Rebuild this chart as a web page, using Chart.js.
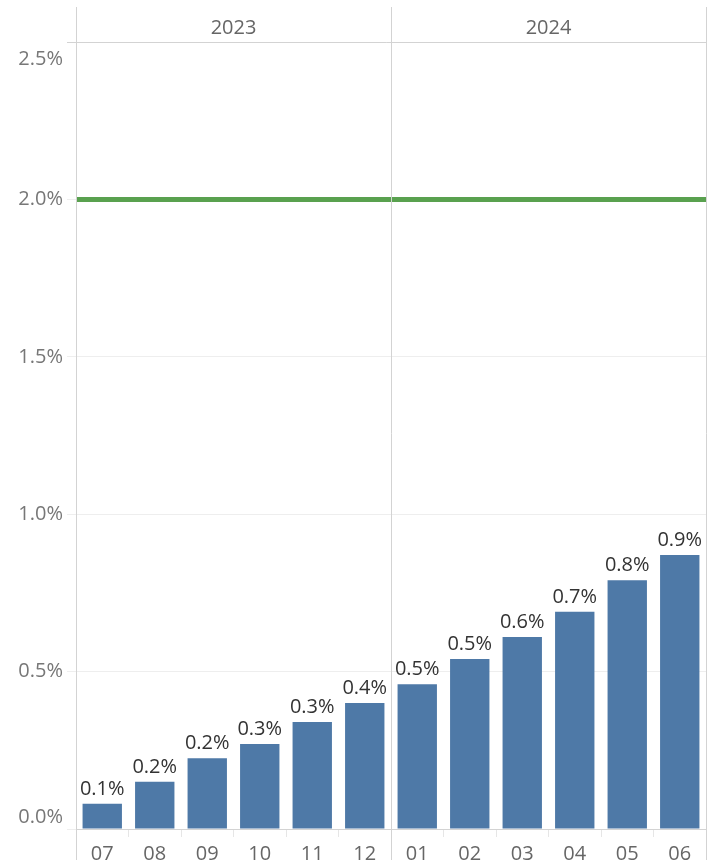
<!DOCTYPE html>
<html>
<head>
<meta charset="utf-8">
<script src="https://cdn.jsdelivr.net/npm/chart.js@4.4.1/dist/chart.umd.min.js"></script>
<style>
  body { margin: 0; background: #fff; }
  canvas { display: block; }
</style>
</head>
<body>
<canvas id="myChart" width="721" height="860"></canvas>
<script>
// datos
const meses = ['07', '08', '09', '10', '11', '12', '01', '02', '03', '04', '05', '06']
const anios = ['2023', '2023', '2023', '2023', '2023', '2023', '2024', '2024', '2024', '2024', '2024', '2024']
const valores = [0.08, 0.15, 0.225, 0.27, 0.34, 0.40, 0.46, 0.54, 0.61, 0.69, 0.79, 0.87]
const etiquetasY = [0, 0.5, 1.0, 1.5, 2.0, 2.5]
const meta = [2.0]

const fuente = "'Open Sans', sans-serif"
const ctx = document.getElementById('myChart')

// redondeo a un decimal (0.15 -> 0.2)
const fmt = v => (Math.round(v * 10 + 1e-6) / 10).toFixed(1) + '%'

const panelPlugin = {
    id: 'paneles',
    afterDatasetsDraw(chart) {
        const c = chart.ctx
        const area = chart.chartArea
        const x = chart.scales.x
        const y = chart.scales.y

        // linea de meta
        c.save()
        c.strokeStyle = '#59a14f'
        c.lineWidth = 5
        meta.forEach(v => {
            const py = y.getPixelForValue(v)
            c.beginPath()
            c.moveTo(area.left, py)
            c.lineTo(area.right, py)
            c.stroke()
        })

        // etiquetas de las barras
        c.fillStyle = '#333'
        c.font = '20px ' + fuente
        c.textAlign = 'center'
        c.textBaseline = 'alphabetic'
        chart.getDatasetMeta(0).data.forEach((bar, i) => {
            c.fillText(fmt(valores[i]), bar.x, bar.y - 9)
        })

        // etiquetas del eje Y
        c.fillStyle = '#777'
        c.textAlign = 'right'
        c.textBaseline = 'middle'
        etiquetasY.forEach(v => {
            let py = y.getPixelForValue(v)
            if (py > area.bottom - 12) py = area.bottom - 12
            if (py < area.top + 17) py = area.top + 17
            c.fillText(v.toFixed(1) + '%', 63, py)
        })

        // cabecera y divisiones por año
        c.strokeStyle = '#d3d3d3'
        c.lineWidth = 1
        c.beginPath()
        c.moveTo(area.left - 9, area.top + 0.5)
        c.lineTo(area.right, area.top + 0.5)
        c.stroke()

        const grupos = []
        anios.forEach((a, i) => {
            const last = grupos[grupos.length - 1]
            if (last && last.anio === a) last.fin = i
            else grupos.push({ anio: a, ini: i, fin: i })
        })
        const half = (x.getPixelForValue(1) - x.getPixelForValue(0)) / 2
        const bordes = [area.left]
        grupos.forEach(g => {
            const x0 = x.getPixelForValue(g.ini) - half
            const x1 = x.getPixelForValue(g.fin) + half
            bordes.push(x1)
            c.fillStyle = '#666'
            c.textAlign = 'center'
            c.textBaseline = 'middle'
            c.font = '20px ' + fuente
            c.fillText(g.anio, (x0 + x1) / 2, area.top - 14)
        })
        bordes.forEach(bx => {
            const px = Math.round(bx) + 0.5
            c.beginPath()
            c.moveTo(px, 7)
            c.lineTo(px, chart.height)
            c.stroke()
        })
        c.restore()
    }
}

new Chart(ctx, {
    type: 'bar',
    data: {
        labels: meses,
        datasets: [{
            data: valores,
            backgroundColor: '#4e79a7',
            categoryPercentage: 0.75,
            barPercentage: 1
        }]
    },
    options: {
        responsive: false,
        animation: false,
        devicePixelRatio: 1,
        layout: { padding: { top: 42, right: 15, left: 0, bottom: 0 } },
        plugins: {
            legend: { display: false },
            tooltip: { enabled: false }
        },
        scales: {
            x: {
                afterFit(scale) { scale.height = 31 },
                border: { color: '#d3d3d3' },
                grid: {
                    offset: true,
                    drawOnChartArea: false,
                    tickLength: 8,
                    tickColor: '#e6e6e6'
                },
                ticks: {
                    color: '#666',
                    padding: 5,
                    font: { family: fuente, size: 20 }
                }
            },
            y: {
                min: 0,
                max: 2.5,
                afterFit(scale) { scale.width = 76 },
                border: { color: '#d3d3d3' },
                grid: {
                    color: '#eeeeee',
                    tickLength: 9,
                    tickColor: '#eeeeee'
                },
                ticks: {
                    display: false,
                    stepSize: 0.5
                }
            }
        }
    },
    plugins: [panelPlugin]
});
</script>
</body>
</html>
